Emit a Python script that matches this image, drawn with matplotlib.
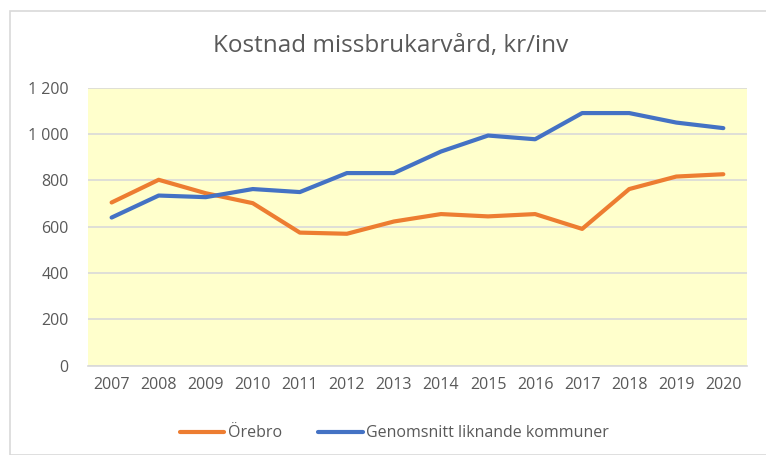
import matplotlib.pyplot as plt
from matplotlib.ticker import FuncFormatter
from matplotlib.patches import Rectangle

# Data
years = [2007, 2008, 2009, 2010, 2011, 2012, 2013, 2014, 2015, 2016, 2017, 2018, 2019, 2020]
orebro = [705, 803, 745, 702, 575, 570, 623, 655, 645, 655, 591, 763, 817, 827]
genomsnitt = [640, 735, 728, 763, 750, 832, 832, 925, 994, 978, 1091, 1091, 1050, 1026]

plt.rcParams['font.family'] = ['Open Sans', 'DejaVu Sans']

fig = plt.figure(figsize=(7.66, 4.55), dpi=100)
fig.patches.append(Rectangle((10 / 766, 0), 1, 1 - 11 / 455, transform=fig.transFigure,
                             fill=False, edgecolor='#D9D9D9', linewidth=1.2))

ax = fig.add_axes([0.115, 0.196, 0.86, 0.611])
ax.set_facecolor('#FFFFCC')

x = list(range(len(years)))
ax.plot(x, orebro, color='#ED7D31', linewidth=3, solid_capstyle='round', label='Örebro')
ax.plot(x, genomsnitt, color='#4472C4', linewidth=3, solid_capstyle='round',
        label='Genomsnitt liknande kommuner')

ax.set_xlim(-0.5, len(years) - 0.5)
ax.set_ylim(0, 1200)
ax.set_yticks(range(0, 1201, 200))
ax.yaxis.set_major_formatter(FuncFormatter(lambda v, p: f'{int(v):,}'.replace(',', ' ')))
ax.set_xticks(x)
ax.set_xticklabels([str(y) for y in years])

ax.grid(axis='y', color='#D9D9D9', linewidth=1.2)
ax.set_axisbelow(True)
for s in ['top', 'right', 'left']:
    ax.spines[s].set_visible(False)
ax.spines['bottom'].set_color('#D9D9D9')
ax.spines['bottom'].set_linewidth(1.2)
ax.tick_params(length=0, labelsize=11.5, labelcolor='#595959')
ax.tick_params(axis='y', pad=14)
ax.tick_params(axis='x', pad=8)

fig.text(0.51, 0.898, 'Kostnad missbrukarvård, kr/inv', ha='center', va='center',
         fontsize=17.5, color='#595959')

fig.legend(loc='center', bbox_to_anchor=(0.515, 0.048), ncol=2, frameon=False,
           fontsize=11.5, labelcolor='#595959', handlelength=2.8, handletextpad=0.2,
           columnspacing=2.3)

fig.savefig('out.png', dpi=100)
